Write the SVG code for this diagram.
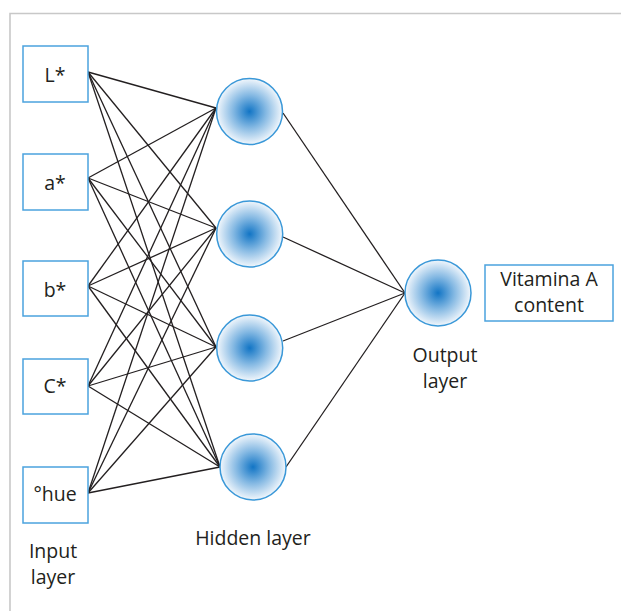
<svg xmlns="http://www.w3.org/2000/svg" width="621" height="611" viewBox="0 0 621 611">
<defs>
<radialGradient id="g" cx="0.5" cy="0.5" r="0.5">
<stop offset="0" stop-color="#1275c5"/>
<stop offset="0.5" stop-color="#85b9e3"/>
<stop offset="1" stop-color="#f2f7fc"/>
</radialGradient>
<style>
.box{fill:#fff;stroke:#4ba3de;stroke-width:1.5}
.node{fill:url(#g);stroke:#3a98d8;stroke-width:1.5}
.t{font-family:"Open Sans","Noto Sans",sans-serif;font-size:19.5px;fill:#231f20;text-anchor:middle}
.c line{stroke:#231f20;stroke-width:1.3}
</style>
</defs>
<rect width="621" height="611" fill="#fff"/>
<path d="M10,611 V13.5 H621" fill="none" stroke="#c8c8c8" stroke-width="1.6"/>
<g class="c">
<line x1="88" y1="72" x2="216" y2="108"/>
<line x1="88" y1="72" x2="216" y2="228"/>
<line x1="88" y1="72" x2="216" y2="347"/>
<line x1="88" y1="72" x2="220" y2="467"/>
<line x1="88" y1="178" x2="216" y2="108"/>
<line x1="88" y1="178" x2="216" y2="228"/>
<line x1="88" y1="178" x2="216" y2="347"/>
<line x1="88" y1="178" x2="220" y2="467"/>
<line x1="88" y1="286" x2="216" y2="108"/>
<line x1="88" y1="286" x2="216" y2="228"/>
<line x1="88" y1="286" x2="216" y2="347"/>
<line x1="88" y1="286" x2="220" y2="467"/>
<line x1="88" y1="386" x2="216" y2="108"/>
<line x1="88" y1="386" x2="216" y2="228"/>
<line x1="88" y1="386" x2="216" y2="347"/>
<line x1="88" y1="386" x2="220" y2="467"/>
<line x1="88" y1="493" x2="216" y2="108"/>
<line x1="88" y1="493" x2="216" y2="228"/>
<line x1="88" y1="493" x2="216" y2="347"/>
<line x1="88" y1="493" x2="220" y2="467"/>
<line x1="283" y1="113" x2="405" y2="293"/>
<line x1="283" y1="237" x2="405" y2="293"/>
<line x1="283" y1="341" x2="405" y2="293"/>
<line x1="286" y1="467" x2="405" y2="293"/>
</g>
<g id="in-L"><rect class="box" x="23" y="46" width="65" height="56"/><text class="t" x="55" y="82">L*</text></g>
<g id="in-a"><rect class="box" x="23" y="154" width="65" height="56"/><text class="t" x="55" y="190">a*</text></g>
<g id="in-b"><rect class="box" x="23" y="261" width="65" height="55"/><text class="t" x="55" y="297">b*</text></g>
<g id="in-C"><rect class="box" x="23" y="359" width="65" height="55"/><text class="t" x="55" y="393">C*</text></g>
<g id="in-hue"><rect class="box" x="23" y="467" width="65" height="56"/><text class="t" x="55" y="501">°hue</text></g>
<g id="h1"><circle class="node" cx="249.5" cy="111.5" r="33"/></g>
<g id="h2"><circle class="node" cx="249.7" cy="234" r="33"/></g>
<g id="h3"><circle class="node" cx="249.7" cy="348" r="33"/></g>
<g id="h4"><circle class="node" cx="253" cy="467" r="33"/></g>
<g id="out"><circle class="node" cx="438" cy="293" r="33"/></g>
<g id="result"><rect class="box" x="485" y="265" width="128" height="56"/><text class="t"><tspan x="549" y="286">Vitamina A</tspan><tspan x="549" y="312">content</tspan></text></g>
<g id="labels">
<text class="t"><tspan x="53" y="558">Input</tspan><tspan x="53" y="583.5">layer</tspan></text>
<text class="t" x="253" y="545">Hidden layer</text>
<text class="t"><tspan x="445" y="362">Output</tspan><tspan x="445" y="387.5">layer</tspan></text>
</g>
</svg>
